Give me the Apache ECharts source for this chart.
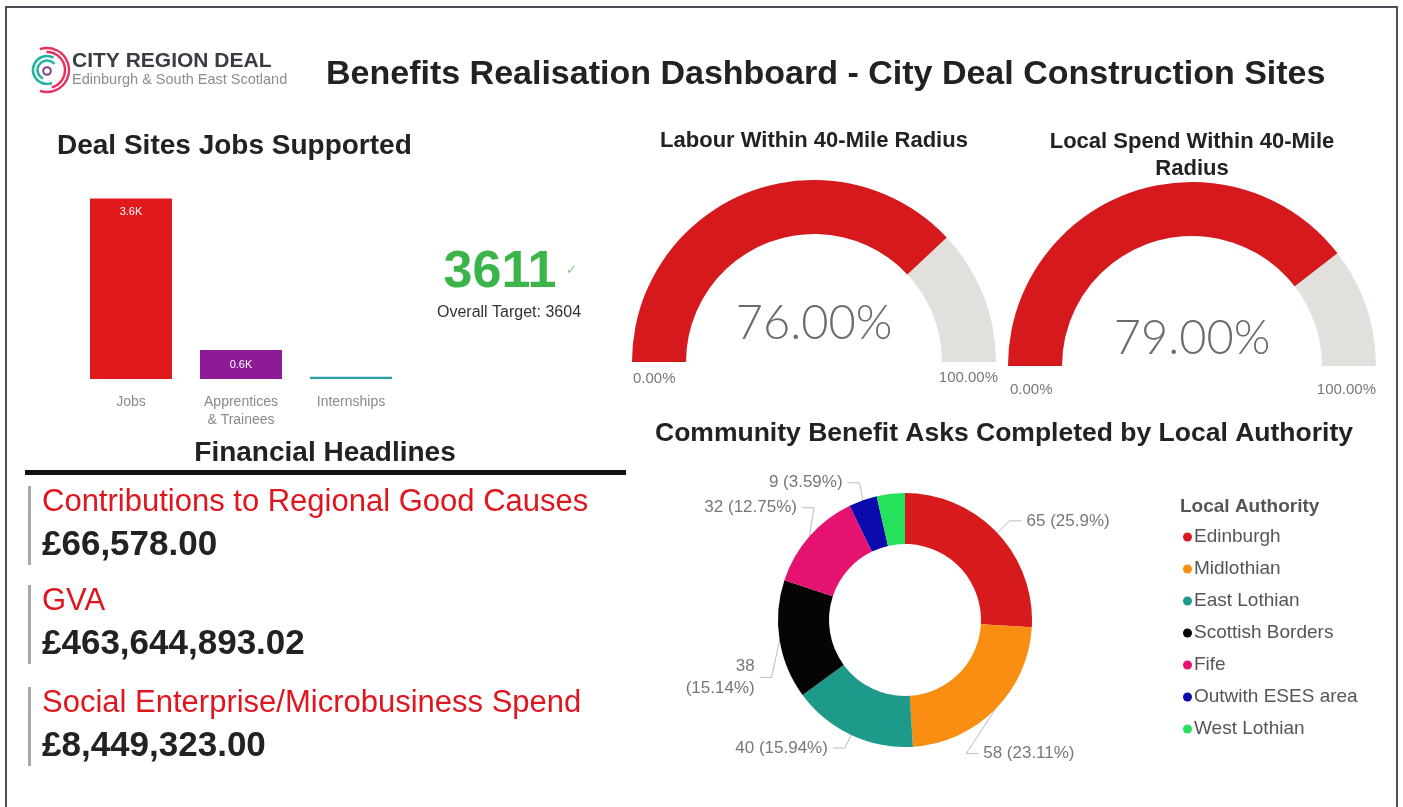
<!DOCTYPE html>
<html>
<head>
<meta charset="utf-8">
<script src="https://cdn.jsdelivr.net/npm/echarts@6/dist/echarts.min.js"></script>
<style>
html,body{margin:0;padding:0;background:#fff;}
#main{width:1403px;height:807px;}
</style>
</head>
<body>
<div id="main"></div>
<script>
// ---- data ----
const jobCategories = ['Jobs', 'Apprentices\n& Trainees', 'Internships'];
const jobValues = [3611, 580, 45];
const jobsTotal = 3611;
const jobsTarget = 3604;

const labourPct = 76;
const spendPct = 79;

const authorities = ['Edinburgh', 'Midlothian', 'East Lothian', 'Scottish Borders', 'Fife', 'Outwith ESES area', 'West Lothian'];
const asksCompleted = [65, 58, 40, 38, 32, 9, 9];

const finLabels = ['Contributions to Regional Good Causes', 'GVA', 'Social Enterprise/Microbusiness Spend'];
const finValues = ['£66,578.00', '£463,644,893.02', '£8,449,323.00'];

// ---- styles ----
const FONT = '"Liberation Sans", Arial, sans-serif';
const barColors = ['#e0191b', '#8d1b95', '#2a9fa8'];
const pieColors = ['#d71a1c', '#f98e12', '#1d9a8a', '#050505', '#e6126f', '#0a0aad', '#26e25a'];
// label nudges (styling only) to mimic the reference label placement
const labelNudge = [[5, -5], [-36, 37], [-2, 4], [2, 36], [12, -22], [0, -8], [0, 0]];
const total = asksCompleted.reduce((a, b) => a + b, 0);
const pct = v => parseFloat((v / total * 100).toFixed(2));

const chart = echarts.init(document.getElementById('main'));

function gauge(center, radius, value, detailOffset) {
  return {
    type: 'gauge', center: center, radius: radius,
    startAngle: 180, endAngle: 0, min: 0, max: 100,
    progress: { show: true, width: 54, itemStyle: { color: '#d6191c' } },
    axisLine: { lineStyle: { width: 54, color: [[1, '#e2e0dd']] } },
    pointer: { show: false }, axisTick: { show: false }, splitLine: { show: false },
    axisLabel: { show: false }, anchor: { show: false }, title: { show: false },
    detail: {
      valueAnimation: false, offsetCenter: [0, detailOffset],
      fontSize: 47, fontWeight: 300, color: '#6b6b6b', fontFamily: 'Lato, Roboto, sans-serif',
      formatter: v => v.toFixed(2) + '%'
    },
    data: [{ value: value }]
  };
}

const graphics = [
  // outer border
  { type: 'polyline', shape: { points: [[6, 807], [6, 7], [1397, 7], [1397, 807]] }, style: { stroke: '#4a4f57', lineWidth: 2, fill: null } },
  // logo arcs
  { type: 'arc', shape: { cx: 47, cy: 70, r: 22, startAngle: -1.9, endAngle: 1.9 }, style: { stroke: '#e8305f', lineWidth: 2.4, fill: null } },
  { type: 'arc', shape: { cx: 47, cy: 70, r: 18, startAngle: -1.6, endAngle: 1.3 }, style: { stroke: '#e8305f', lineWidth: 2.4, fill: null } },
  { type: 'arc', shape: { cx: 47, cy: 70, r: 14, startAngle: 1.2, endAngle: 5.2 }, style: { stroke: '#27b3a4', lineWidth: 2.6, fill: null } },
  { type: 'arc', shape: { cx: 47, cy: 70, r: 9.5, startAngle: 2.0, endAngle: 5.6 }, style: { stroke: '#27b3a4', lineWidth: 2.6, fill: null } },
  { type: 'circle', shape: { cx: 47, cy: 71, r: 3.8 }, style: { stroke: '#8a3a8e', lineWidth: 2, fill: null } },
  { type: 'text', left: 72, top: 51, style: { text: 'CITY REGION DEAL', font: 'bold 21px ' + FONT, fill: '#3a3d44' } },
  { type: 'text', left: 72, top: 72, style: { text: 'Edinburgh & South East Scotland', font: '14.5px ' + FONT, fill: '#8a8d93' } },
  // main title
  { type: 'text', left: 326, top: 58, style: { text: 'Benefits Realisation Dashboard - City Deal Construction Sites', font: 'bold 34px ' + FONT, fill: '#222' } },
  // section titles
  { type: 'text', left: 57, top: 132, style: { text: 'Deal Sites Jobs Supported', font: 'bold 28px ' + FONT, fill: '#222' } },
  { type: 'text', x: 814, y: 130, style: { text: 'Labour Within 40-Mile Radius', font: 'bold 22px ' + FONT, fill: '#222', align: 'center' } },
  { type: 'text', x: 1192, y: 128, style: { text: 'Local Spend Within 40-Mile\nRadius', font: 'bold 22px ' + FONT, fill: '#222', align: 'center', lineHeight: 27 } },
  { type: 'text', x: 1004, y: 420, style: { text: 'Community Benefit Asks Completed by Local Authority', font: 'bold 26.5px ' + FONT, fill: '#222', align: 'center' } },
  { type: 'text', x: 325, y: 439, style: { text: 'Financial Headlines', font: 'bold 28px ' + FONT, fill: '#222', align: 'center' } },
  { type: 'rect', shape: { x: 25, y: 470, width: 601, height: 5 }, style: { fill: '#111' } },
  // KPI
  { type: 'text', x: 500, y: 247, style: { text: String(jobsTotal), font: 'bold 52px ' + FONT, fill: '#3bb54a', align: 'center' } },
  { type: 'text', x: 566, y: 264, style: { text: '✓', font: '13px ' + FONT, fill: '#7fbf85' } },
  { type: 'text', x: 509, y: 305, style: { text: 'Overall Target: ' + jobsTarget, font: '16px ' + FONT, fill: '#333', align: 'center' } },
  // gauge min/max
  { type: 'text', left: 633, top: 371, style: { text: '0.00%', font: '15px ' + FONT, fill: '#777' } },
  { type: 'text', x: 998, y: 370, style: { text: '100.00%', font: '15px ' + FONT, fill: '#777', align: 'right' } },
  { type: 'text', left: 1010, top: 382, style: { text: '0.00%', font: '15px ' + FONT, fill: '#777' } },
  { type: 'text', x: 1376, y: 382, style: { text: '100.00%', font: '15px ' + FONT, fill: '#777', align: 'right' } },
  // legend title
  { type: 'text', left: 1180, top: 497, style: { text: 'Local Authority', font: 'bold 19px ' + FONT, fill: '#555' } }
];

// financial blocks
const blockTops = [486, 585, 687];
finLabels.forEach((lab, i) => {
  const t = blockTops[i];
  graphics.push({ type: 'rect', shape: { x: 28, y: t, width: 3, height: 79 }, style: { fill: '#a8a8a8' } });
  graphics.push({ type: 'text', left: 42, top: t + 1, style: { text: lab, font: '31px ' + FONT, fill: '#e0161f' } });
  graphics.push({ type: 'text', left: 42, top: t + 42, style: { text: finValues[i], font: 'bold 35px ' + FONT, fill: '#222' } });
});

const option = {
  animation: false,
  textStyle: { fontFamily: FONT },
  grid: [{ left: 76, top: 189, width: 330, height: 190 }],
  xAxis: [{
    type: 'category', gridIndex: 0, data: jobCategories,
    axisLine: { show: false }, axisTick: { show: false },
    axisLabel: { color: '#8a8a8a', fontSize: 14, margin: 14, lineHeight: 18 }
  }],
  yAxis: [{ type: 'value', gridIndex: 0, min: 0, max: 3800, show: false }],
  legend: {
    orient: 'vertical', left: 1178, top: 522, itemGap: 12, icon: 'circle',
    itemWidth: 9, itemHeight: 9, itemStyle: { borderWidth: 0 },
    textStyle: { fontSize: 19, color: '#555', lineHeight: 20, padding: [0, 0, 0, -3] },
    data: authorities
  },
  graphic: graphics,
  series: [
    {
      type: 'bar', xAxisIndex: 0, yAxisIndex: 0, barWidth: 82,
      data: jobValues.map((v, i) => ({
        value: v, itemStyle: { color: barColors[i] },
        label: i === 0 ? { show: true, position: 'insideTop', distance: 8 } :
               i === 1 ? { show: true, position: 'inside' } : { show: false }
      })),
      label: { color: '#fff', fontSize: 11, formatter: p => (p.value / 1000).toFixed(1) + 'K' }
    },
    gauge([814, 362], 182, labourPct, -38),
    gauge([1192, 366], 184, spendPct, -27),
    {
      type: 'pie', center: [905, 620], radius: [76, 127], startAngle: 90, clockwise: true,
      avoidLabelOverlap: true,
      label: {
        color: '#777', fontSize: 17, lineHeight: 22,
        formatter: p => p.value + ' (' + pct(p.value) + '%)'
      },
      labelLine: { length: 10, length2: 12, lineStyle: { color: '#bbb', width: 1 } },
      labelLayout: p => {
        const d = labelNudge[p.dataIndex];
        const out = { dx: d[0], dy: d[1] };
        const pts = p.labelLinePoints;
        if (pts && pts.length === 3) {
          out.labelLinePoints = [
            pts[0],
            [pts[1][0] + d[0], pts[1][1] + d[1]],
            [pts[2][0] + d[0], pts[2][1] + d[1]]
          ];
        }
        return out;
      },
      data: authorities.map((n, i) => {
        const d = { name: n, value: asksCompleted[i], itemStyle: { color: pieColors[i] } };
        if (i === 3) d.label = { formatter: p => p.value + '\n(' + pct(p.value) + '%)' };
        if (i === 6) { d.label = { show: false }; d.labelLine = { show: false }; }
        return d;
      })
    }
  ]
};
chart.setOption(option);
</script>
</body>
</html>
